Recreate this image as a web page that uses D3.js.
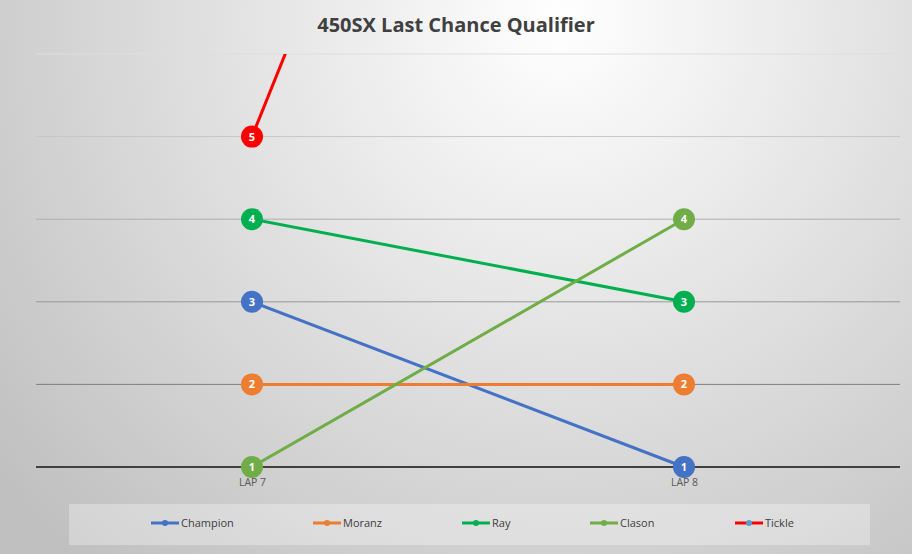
<!DOCTYPE html>
<html lang="en">
<head>
    <meta charset="UTF-8">
    <title>450SX Last Chance Qualifier</title>
    <script src="https://d3js.org/d3.v7.min.js"></script>
    <style>
        body { margin: 0; background: #fff; }
        text { font-family: "Open Sans", "Noto Sans", sans-serif; }
    </style>
</head>
<body>
    <div id="chart"></div>
    <script>
        const laps = ["LAP 7", "LAP 8"];
        const riders = ["Champion", "Moranz", "Ray", "Clason", "Tickle"];
        const champion = [3, 1];
        const moranz = [2, 2];
        const ray = [4, 3];
        const clason = [1, 4];
        const tickle = [5, 18];
        const colors = ["#4472c4", "#ed7d31", "#00b050", "#70ad47", "#ff0000"];
        const legendMarkers = ["#4472c4", "#ed7d31", "#00b050", "#70ad47", "#5b9bd5"];
        const gridTicks = [2, 3, 4, 5, 6];

        const series = [champion, moranz, ray, clason, tickle].map((vals, i) => ({
            name: riders[i],
            color: colors[i],
            values: vals.map((v, j) => ({ lap: laps[j], pos: v }))
        }));

        const W = 912, H = 554;
        const plot = { left: 36, right: 900, top: 54, bottom: 467 };

        const svg = d3.select("#chart")
            .append("svg")
            .attr("width", W)
            .attr("height", H);

        const defs = svg.append("defs");
        const grad = defs.append("radialGradient")
            .attr("id", "bg")
            .attr("gradientUnits", "userSpaceOnUse")
            .attr("cx", 560).attr("cy", 20).attr("r", 720);
        grad.append("stop").attr("offset", "0%").attr("stop-color", "#ffffff");
        grad.append("stop").attr("offset", "100%").attr("stop-color", "#c0c0c0");

        defs.append("clipPath").attr("id", "clip")
            .append("rect")
            .attr("x", plot.left).attr("y", plot.top)
            .attr("width", plot.right - plot.left)
            .attr("height", H - plot.top);

        svg.append("rect")
            .attr("width", W).attr("height", H)
            .attr("fill", "url(#bg)");

        const x = d3.scalePoint()
            .domain(laps)
            .range([plot.left, plot.right])
            .padding(0.5);

        const y = d3.scaleLinear()
            .domain([1, 6])
            .range([plot.bottom, plot.top]);

        // gridlines fade from light at top to dark near the axis
        const gridColor = d3.scaleLinear()
            .domain([6, 2])
            .range(["#dedede", "#7f7f7f"]);

        svg.append("g")
            .selectAll("line")
            .data(gridTicks)
            .join("line")
            .attr("x1", plot.left).attr("x2", plot.right)
            .attr("y1", d => y(d)).attr("y2", d => y(d))
            .attr("stroke", d => gridColor(d))
            .attr("stroke-width", 1);

        const xAxis = svg.append("g")
            .attr("transform", `translate(0,${plot.bottom})`)
            .call(d3.axisBottom(x).tickSize(0).tickPadding(12));
        xAxis.select(".domain")
            .attr("d", `M${plot.left},0H${plot.right}`)
            .attr("stroke", "#404040")
            .attr("stroke-width", 2);
        xAxis.selectAll("text")
            .attr("font-size", 10.5)
            .attr("fill", "#595959")
            .style("font-family", "'Open Sans', sans-serif");

        svg.append("text")
            .attr("x", W / 2)
            .attr("y", 32)
            .attr("text-anchor", "middle")
            .attr("font-size", 20)
            .attr("font-weight", "bold")
            .attr("fill", "#404040")
            .text("450SX Last Chance Qualifier");

        const line = d3.line()
            .x(d => x(d.lap))
            .y(d => y(d.pos));

        svg.append("g")
            .attr("clip-path", "url(#clip)")
            .selectAll("path")
            .data(series)
            .join("path")
            .attr("d", d => line(d.values))
            .attr("fill", "none")
            .attr("stroke", d => d.color)
            .attr("stroke-width", 3);

        const pts = svg.append("g")
            .selectAll("g")
            .data(series.flatMap(s => s.values
                .filter(v => v.pos <= y.domain()[1])
                .map(v => ({ ...v, color: s.color }))))
            .join("g")
            .attr("transform", d => `translate(${x(d.lap)},${y(d.pos)})`);

        pts.append("circle")
            .attr("r", 11)
            .attr("fill", d => d.color);

        pts.append("text")
            .attr("text-anchor", "middle")
            .attr("dy", "0.36em")
            .attr("font-size", 11)
            .attr("font-weight", "bold")
            .attr("fill", "#fff")
            .text(d => d.pos);

        // legend
        const legend = svg.append("g");
        legend.append("rect")
            .attr("x", 69).attr("y", 504)
            .attr("width", 801).attr("height", 41)
            .attr("fill", "#ffffff")
            .attr("fill-opacity", 0.3);

        const legendX = [151, 313, 462, 590, 735];
        const item = legend.selectAll("g.item")
            .data(series)
            .join("g")
            .attr("class", "item")
            .attr("transform", (d, i) => `translate(${legendX[i]},523)`);

        item.append("line")
            .attr("x1", 0).attr("x2", 28)
            .attr("stroke", d => d.color)
            .attr("stroke-width", 3);
        item.append("circle")
            .attr("cx", 14).attr("r", 3)
            .attr("fill", (d, i) => legendMarkers[i]);
        item.append("text")
            .attr("x", 30)
            .attr("dy", "0.35em")
            .attr("font-size", 11)
            .attr("fill", "#404040")
            .text(d => d.name);
    </script>
</body>
</html>
